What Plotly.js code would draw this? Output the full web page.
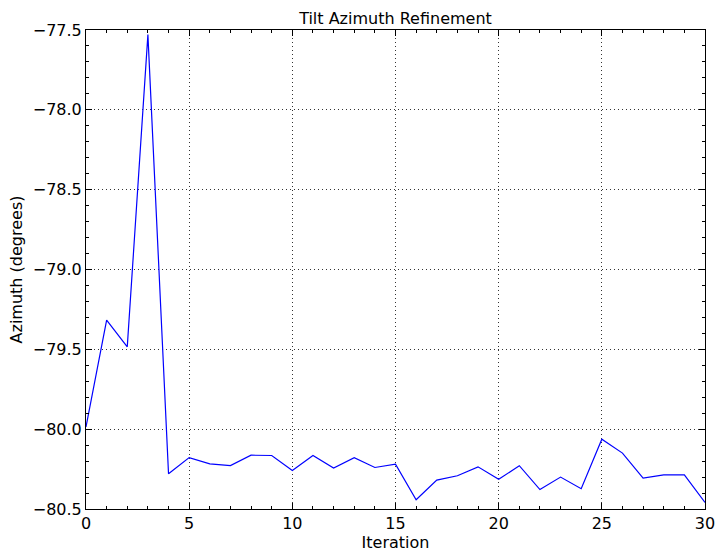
<!DOCTYPE html>
<html>
<head>
<meta charset="utf-8">
<script src="https://cdn.plot.ly/plotly-3.0.1.min.js"></script>
<style>html,body{margin:0;padding:0;background:#fff;}#chart{width:725px;height:555px;}</style>
</head>
<body>
<div id="chart"></div>
<script>
const iterations = [0,1,2,3,4,5,6,7,8,9,10,11,12,13,14,15,16,17,18,19,20,21,22,23,24,25,26,27,28,29,30];
const azimuth = [-79.986,-79.317,-79.484,-77.529,-80.279,-80.178,-80.217,-80.228,-80.163,-80.165,
  -80.259,-80.165,-80.244,-80.179,-80.240,-80.219,-80.442,-80.319,-80.292,-80.236,
  -80.314,-80.229,-80.378,-80.300,-80.373,-80.063,-80.150,-80.306,-80.286,-80.286,-80.459];
const xTicks = [0,5,10,15,20,25,30];
const yTicks = [-80.5,-80.0,-79.5,-79.0,-78.5,-78.0,-77.5];

const font = {family: 'DejaVu Sans, sans-serif', size: 16, color: '#000'};
const trace = {x: iterations, y: azimuth, type: 'scatter', mode: 'lines',
  line: {color: '#0000ff', width: 1.2}, hoverinfo: 'skip'};
const layout = {
  width: 725, height: 555,
  margin: {l: 86, r: 20, t: 30, b: 46},
  paper_bgcolor: '#fff', plot_bgcolor: '#fff',
  showlegend: false,
  title: {text: 'Tilt Azimuth Refinement', font: font, x: 0.5, xref: 'paper', xanchor: 'center',
    y: 1, yref: 'paper', yanchor: 'bottom', pad: {b: 6}},
  xaxis: {range: [0, 30], tickvals: xTicks, ticktext: xTicks.map(String), showline: true, linecolor: '#000', linewidth: 1, mirror: 'ticks',
    ticks: 'inside', ticklen: 6, tickcolor: '#000', tickfont: font,
    showgrid: true, gridcolor: '#333', gridwidth: 1, griddash: '1px,3px', zeroline: false,
    minor: {dtick: 1, ticks: 'inside', ticklen: 3, tickcolor: '#000', showgrid: false},
    title: {text: 'Iteration', font: font, standoff: 2}},
  yaxis: {range: [-80.5, -77.5], tickvals: yTicks, ticktext: yTicks.map(v => v.toFixed(1).replace('-', '\u2212')), showline: true, linecolor: '#000', linewidth: 1, mirror: 'ticks',
    ticks: 'inside', ticklen: 6, tickcolor: '#000', tickfont: font,
    showgrid: true, gridcolor: '#333', gridwidth: 1, griddash: '1px,3px', zeroline: false,
    minor: {dtick: 0.1, tick0: -80.5, ticks: 'inside', ticklen: 3, tickcolor: '#000', showgrid: false},
    title: {text: 'Azimuth (degrees)', font: font, standoff: 6}}
};
Plotly.newPlot('chart', [trace], layout, {staticPlot: true, displayModeBar: false});
</script>
</body>
</html>
